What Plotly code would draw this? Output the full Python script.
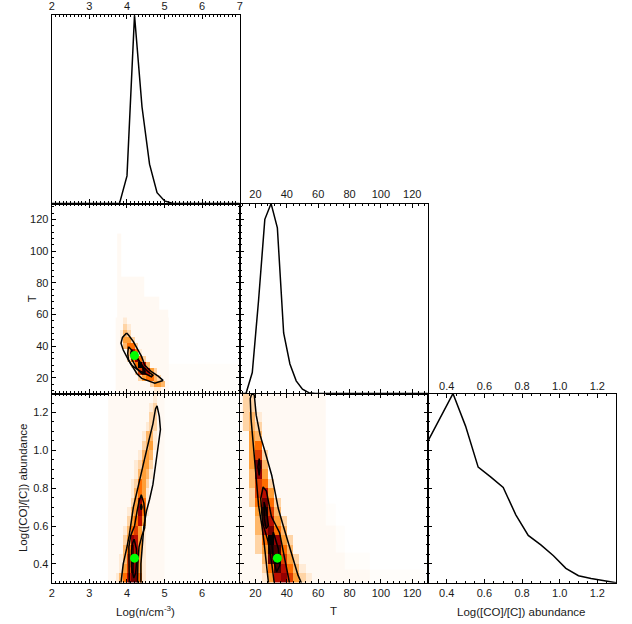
import plotly.graph_objects as go

W, H = 632, 624

# ---------------- marginal (1-D) distributions, normalised ----------------
logn_x = [2.0, 3.6, 3.8, 4.0, 4.2, 4.4, 4.6, 4.8, 5.0, 5.2, 5.4, 7.0]
logn_p = [0.0, 0.0, 0.0, 0.147, 1.0, 0.513, 0.209, 0.058, 0.014, 0.002, 0.0, 0.0]

T_x = [10, 14, 18, 22, 26, 30, 34, 38, 42, 46, 50, 54, 58, 130]
T_p = [0.0, 0.0, 0.111, 0.49, 0.917, 1.0, 0.872, 0.319, 0.156, 0.067, 0.023, 0.005, 0.0, 0.0]

ab_x = [0.3, 0.367, 0.433, 0.5, 0.567, 0.633, 0.7, 0.767, 0.833, 0.9, 0.967, 1.033, 1.1, 1.167, 1.233, 1.3]
ab_p = [0.749, 0.876, 1.0, 0.828, 0.611, 0.56, 0.504, 0.359, 0.25, 0.2, 0.143, 0.076, 0.037, 0.023, 0.011, 0.0]

# best fit point
best_logn, best_T, best_ab = 4.2, 34.0, 0.43

# ---------------- 2-D density grids ----------------
# level codes -> normalised density
LEVEL = {'.': None, 'f': 0.005, 'a': 0.012, 'b': 0.04, 'c': 0.09, '1': 0.15, '2': 0.2, '3': 0.3,
         '4': 0.4, '5': 0.5, '6': 0.6, '7': 0.7, '8': 0.8, '9': 0.9, 'X': 1.0}

# panel logn (x) vs T (y)
nT_x = [3.75, 3.85, 3.95, 4.05, 4.15, 4.25, 4.35, 4.45, 4.55, 4.65, 4.75, 4.85, 4.95, 5.05]
nT_y = [12, 16, 20, 24, 28, 32, 36, 40, 44, 48, 52, 56]
nT_rows = [
    "aaaaaaaaaabbaa",
    "aaaaaaaaac221a",
    "aaaaaac2331caa",
    "aaaaac4852caaa",
    "aaaac3X51aaaaa",
    "aaac363caaaaaa",
    "aaa153baaaaaaa",
    "aa133caaaaaaaa",
    "ab22caaaaaaaaa",
    "ab1caaaaaaaaaa",
    "aacbaaaaaaaaaa",
    "aabaaaaaaaaaaa",
]
nT_bg_x = [3.74, 3.85, 4.45, 4.85, 5.1, 7.0]
nT_bg_y = [10, 29, 63, 71, 84, 111]
nT_bg_rows = ["aaaaf", "aaaa.", "aaa..", "aa...", "a...."]

# panel logn (x) vs abundance (y)
na_x = [3.55, 3.65, 3.75, 3.85, 3.95, 4.05, 4.15, 4.25, 4.35, 4.45, 4.55, 4.65, 4.75, 4.85, 4.95]
na_y = [0.325, 0.375, 0.425, 0.475, 0.525, 0.575, 0.625, 0.675, 0.725, 0.775,
        0.825, 0.875, 0.925, 0.975, 1.025, 1.075, 1.125, 1.175, 1.225, 1.275]
na_rows = [
    "aab135773baaaaa",
    "aaab24962baaaaa",
    "aaab14X62baaaaa",
    "aaaa13852baaaaa",
    "aaaac2652baaaaa",
    "aaaab1342baaaaa",
    "aaaaac2352aaaaa",
    "aaaaab1263baaaa",
    "aaaaaac263baaaa",
    "aaaaaab132baaaa",
    "aaaaaabc32caaaa",
    "aaaaaaab121baaa",
    "aaaaaaabc22caaa",
    "aaaaaaaab121aaa",
    "aaaaaaaaac12baa",
    "aaaaaaaaab11baa",
    "aaaaaaaaaabccaa",
    "aaaaaaaaaaaccaa",
    "aaaaaaaaaaabcaa",
    "aaaaaaaaaaaabaa",
]
na_bg_x = [3.5, 4.0, 5.0, 7.0]
na_bg_y = [0.3, 0.7, 1.3]
na_bg_rows = ["aaf", ".af"]

# panel T (x) vs abundance (y)
Ta_x = [14, 18, 22, 26, 30, 34, 38, 42, 46, 50, 54]
Ta_y = na_y
Ta_rows = [
    "aaab25642cb",
    "aaac38531ba",
    "aaa17X42caa",
    "aac29831aaa",
    "aac3X62caaa",
    "aa15731aaaa",
    "aa1852caaaa",
    "aa2941aaaaa",
    "ac373caaaaa",
    "ac452aaaaaa",
    "a143caaaaaa",
    "a162aaaaaaa",
    "a271aaaaaaa",
    "a24caaaaaaa",
    "a23aaaaaaaa",
    "a21aaaaaaaa",
    "c1caaaaaaaa",
    "c1baaaaaaaa",
    "ccaaaaaaaaa",
    "ccaaaaaaaaa",
]
Ta_bg_x = [10, 65, 71, 77, 93, 128]
Ta_bg_y = [0.3, 0.37, 0.46, 0.6, 0.72, 1.3]
Ta_bg_rows = ["aaaaf", "aaaf.", "aaf..", "af...", "a...."]

# ---------------- confidence contours ----------------
nT_c1_x = [3.99, 3.88, 3.84, 3.90, 4.04, 4.12, 4.26, 4.39, 4.61, 4.74, 4.96, 4.83, 4.65, 4.47, 4.39, 4.30, 4.17, 4.04, 3.99]
nT_c1_y = [48.3, 45.5, 41.8, 37.5, 31.2, 28.0, 22.7, 19.6, 17.4, 16.6, 18.3, 21.0, 23.8, 28.0, 33.3, 37.5, 42.8, 47.0, 48.3]
nT_c2_x = [4.04, 4.21, 4.30, 4.43, 4.56, 4.69, 4.65, 4.47, 4.30, 4.12, 4.04, 4.02, 4.04]
nT_c2_y = [39.6, 35.4, 31.2, 27.0, 23.8, 21.7, 20.6, 22.7, 24.8, 28.0, 31.2, 35.4, 39.6]
nT_c3_x = [4.12, 4.26, 4.39, 4.47, 4.39, 4.26, 4.14, 4.10, 4.12]
nT_c3_y = [37.5, 33.3, 28.0, 23.8, 22.7, 25.9, 31.2, 35.4, 37.5]

na_c1_x = [3.84, 3.90, 3.99, 4.06, 4.17, 4.26, 4.34, 4.47, 4.58, 4.69, 4.76, 4.80, 4.86, 4.89, 4.84, 4.76, 4.69, 4.60, 4.52, 4.45, 4.40, 4.37, 4.37]
na_c1_y = [0.30, 0.40, 0.48, 0.55, 0.70, 0.78, 0.85, 0.97, 1.05, 1.14, 1.22, 1.235, 1.18, 1.11, 1.03, 0.92, 0.82, 0.74, 0.68, 0.60, 0.50, 0.40, 0.30]
na_c2_x = [4.06, 4.05, 4.05, 4.10, 4.20, 4.27, 4.32, 4.38, 4.45, 4.48, 4.47, 4.40, 4.32, 4.29, 4.28]
na_c2_y = [0.30, 0.385, 0.49, 0.55, 0.60, 0.68, 0.73, 0.765, 0.72, 0.64, 0.59, 0.55, 0.49, 0.40, 0.30]
na_c3_x = [4.38, 4.40, 4.38, 4.36, 4.38]
na_c3_y = [0.715, 0.70, 0.685, 0.70, 0.715]
na_c4_x = [4.19, 4.25, 4.26, 4.23, 4.18, 4.12, 4.12, 4.15, 4.19]
na_c4_y = [0.53, 0.48, 0.42, 0.35, 0.325, 0.385, 0.47, 0.51, 0.53]

Ta_c1_x = [28.3, 27.2, 25.5, 24.1, 22.0, 20.9, 19.9, 18.8, 17.2, 16.7, 17.6, 18.6, 19.3, 20.5, 23.0, 26.2, 30.4, 32.5, 34.6, 37.7, 40.9, 44.0, 47.2, 49.3]
Ta_c1_y = [0.30, 0.392, 0.515, 0.603, 0.709, 0.815, 0.921, 1.044, 1.168, 1.274, 1.296, 1.298, 1.291, 1.186, 1.080, 0.991, 0.868, 0.780, 0.692, 0.603, 0.515, 0.427, 0.339, 0.30]
Ta_c2_x = [32.0, 30.2, 28.0, 24.5, 23.4, 24.9, 27.0, 30.2, 35.4, 37.7, 39.6, 41.7]
Ta_c2_y = [0.30, 0.415, 0.52, 0.62, 0.745, 0.807, 0.785, 0.65, 0.565, 0.462, 0.38, 0.30]
Ta_c3_x = [22.4, 23.0, 22.4, 21.6, 22.4]
Ta_c3_y = [0.956, 0.912, 0.868, 0.912, 0.956]
Ta_c4_x = [25.5, 27.2, 28.3, 26.8, 25.7, 25.5]
Ta_c4_y = [0.727, 0.674, 0.603, 0.586, 0.639, 0.727]
Ta_c5_x = [31.4, 34.6, 35.6, 33.5, 31.4, 30.4, 31.4]
Ta_c5_y = [0.568, 0.48, 0.392, 0.357, 0.427, 0.515, 0.568]

# ---------------- style ----------------
CSCALE = [[0.0, '#ffffff'], [0.05, '#ffe6cc'], [0.1, '#ffcf9b'], [0.2, '#ff9f37'],
          [0.3, '#ff6e00'], [0.4, '#de3e00'], [0.53, '#ae0000'], [1.0, '#000000']]
FONT = dict(family="Liberation Sans, Arial, sans-serif", size=11, color="#1a1a1a")


def grid(rows):
    return [[LEVEL[ch] for ch in r] for r in rows]


fig = go.Figure()


def heat(x, y, rows, xa, ya):
    fig.add_trace(go.Heatmap(x=x, y=y, z=grid(rows), colorscale=CSCALE, zmin=0, zmax=1,
                             showscale=False, hoverinfo='skip', xaxis=xa, yaxis=ya))


def line(x, y, xa, ya, color='black', width=1.5):
    fig.add_trace(go.Scatter(x=x, y=y, mode='lines', line=dict(color=color, width=width),
                             showlegend=False, hoverinfo='skip', xaxis=xa, yaxis=ya))


def dot(x, y, xa, ya):
    fig.add_trace(go.Scatter(x=[x], y=[y], mode='markers',
                             marker=dict(color='#00ff00', size=9, line=dict(width=0)),
                             showlegend=False, hoverinfo='skip', xaxis=xa, yaxis=ya))


# diagonal panels
line(logn_x, logn_p, 'x', 'y')
line(T_x, T_p, 'x3', 'y3')
line(ab_x, ab_p, 'x6', 'y6')
fig.add_trace(go.Scatter(x=[0.3], y=[0], mode='markers', marker=dict(opacity=0),
                         showlegend=False, hoverinfo='skip', xaxis='x7', yaxis='y6'))

# logn vs T
heat(nT_bg_x, nT_bg_y, nT_bg_rows, 'x2', 'y2')
heat(nT_x, nT_y, nT_rows, 'x2', 'y2')
for cx, cy in [(nT_c1_x, nT_c1_y), (nT_c2_x, nT_c2_y), (nT_c3_x, nT_c3_y)]:
    line(cx, cy, 'x2', 'y2')
dot(best_logn, best_T, 'x2', 'y2')

# logn vs abundance
heat(na_bg_x, na_bg_y, na_bg_rows, 'x4', 'y4')
heat(na_x, na_y, na_rows, 'x4', 'y4')
for cx, cy in [(na_c1_x, na_c1_y), (na_c2_x, na_c2_y), (na_c3_x, na_c3_y), (na_c4_x, na_c4_y)]:
    line(cx, cy, 'x4', 'y4')
dot(best_logn, best_ab, 'x4', 'y4')

# T vs abundance
heat(Ta_bg_x, Ta_bg_y, Ta_bg_rows, 'x5', 'y5')
heat(Ta_x, Ta_y, Ta_rows, 'x5', 'y5')
for cx, cy in [(Ta_c1_x, Ta_c1_y), (Ta_c2_x, Ta_c2_y), (Ta_c3_x, Ta_c3_y),
               (Ta_c4_x, Ta_c4_y), (Ta_c5_x, Ta_c5_y)]:
    line(cx, cy, 'x5', 'y5')
dot(best_T, best_ab, 'x5', 'y5')

# ---------------- axes ----------------
colpx = [49.3, 239.0, 429.0, 619.0]
rowpx = [14.3, 202.9, 393.2, 582.7]
cdom = [[colpx[i] / W, colpx[i + 1] / W] for i in range(3)]
rdom = [[1 - rowpx[i + 1] / H, 1 - rowpx[i] / H] for i in range(3)]

MINOR = dict(ticks='inside', ticklen=2, tickcolor='black', tickwidth=1, showgrid=False)


def axis(domain, anchor, rng, labels=True, side=None, mirror='ticks', ticks='inside', **kw):
    d = dict(domain=domain, anchor=anchor, range=rng, showline=True, linecolor='black',
             linewidth=1.4, mirror=mirror, ticks=ticks, ticklen=4, tickwidth=1,
             tickcolor='black', showgrid=False, zeroline=False, tickfont=FONT,
             showticklabels=labels)
    if side:
        d['side'] = side
    d.update(kw)
    return d


LOGN = dict(tick0=0, dtick=1, minor=dict(MINOR, dtick=0.1))
TAX = dict(tick0=0, dtick=20, minor=dict(MINOR, dtick=4))
ABX = dict(tick0=0, dtick=0.2, tickformat='.1f', minor=dict(MINOR, dtick=0.05))

T_major = [20, 40, 60, 80, 100, 120]
T_minor = list(range(12, 130, 4))
ab_major = [0.4, 0.6, 0.8, 1.0, 1.2]
ab_minor = [0.35 + 0.05 * i for i in range(19)]

layout = dict(
    width=W, height=H, margin=dict(l=0, r=0, t=0, b=0),
    paper_bgcolor='white', plot_bgcolor='white', showlegend=False,
    # column 1 row 1 : logn marginal
    xaxis=axis(cdom[0], 'y', [2, 7], side='top', **LOGN),
    yaxis=axis(rdom[0], 'x', [0, 1.0], labels=False, mirror=True, ticks=''),
    # row 2 col 1 : logn vs T
    xaxis2=axis(cdom[0], 'y2', [2, 7], labels=False, **LOGN),
    yaxis2=axis(rdom[1], 'x2', [10, 130], **TAX),
    # row 2 col 2 : T marginal
    xaxis3=axis(cdom[1], 'y3', [10, 130], side='top', **TAX),
    yaxis3=axis(rdom[1], 'x3', [0, 1.0], labels=False, mirror=True,
                tickmode='array', tickvals=[(t - 10) / 120 for t in T_major],
                minor=dict(MINOR, tickmode='array', tickvals=[(t - 10) / 120 for t in T_minor])),
    # row 3 col 1 : logn vs abundance
    xaxis4=axis(cdom[0], 'y4', [2, 7], tickmode='array', tickvals=[2, 3, 4, 5, 6, 7],
                ticktext=['2', '3', '4', '5', '6', ''], minor=dict(MINOR, dtick=0.1)),
    yaxis4=axis(rdom[2], 'x4', [0.3, 1.3], **ABX),
    # row 3 col 2 : T vs abundance
    xaxis5=axis(cdom[1], 'y5', [10, 130], **TAX),
    yaxis5=axis(rdom[2], 'x5', [0.3, 1.3], labels=False, **ABX),
    # row 3 col 3 : abundance marginal
    xaxis6=axis(cdom[2], 'y6', [0.3, 1.3], **ABX),
    yaxis6=axis(rdom[2], 'x6', [0, 1.0], labels=False, mirror=True,
                tickmode='array', tickvals=[(v - 0.3) for v in ab_major],
                minor=dict(MINOR, tickmode='array', tickvals=[(v - 0.3) for v in ab_minor])),
    xaxis7=dict(overlaying='x6', anchor='y6', side='top', range=[0.3, 1.3], showline=False,
                ticks='', showgrid=False, zeroline=False, tickfont=FONT, tick0=0, dtick=0.2,
                tickformat='.1f'),
)
fig.update_layout(**layout)


def title(text, px, py, angle=0):
    fig.add_annotation(text=text, x=px / W, y=1 - py / H, xref='paper', yref='paper',
                       showarrow=False, xanchor='center', yanchor='middle', textangle=angle,
                       font=dict(FONT, size=11.5))


title("Log(n/cm<sup>-3</sup>)", 144, 611)
title("T", 334, 611)
title("Log([CO]/[C]) abundance", 523, 612)
title("T", 29, 298, -90)
title("Log([CO]/[C]) abundance", 20, 487, -90)

fig.write_html("out.html", config={'displayModeBar': False},
               post_script="document.body.style.margin='0';document.body.style.overflow='hidden';")
